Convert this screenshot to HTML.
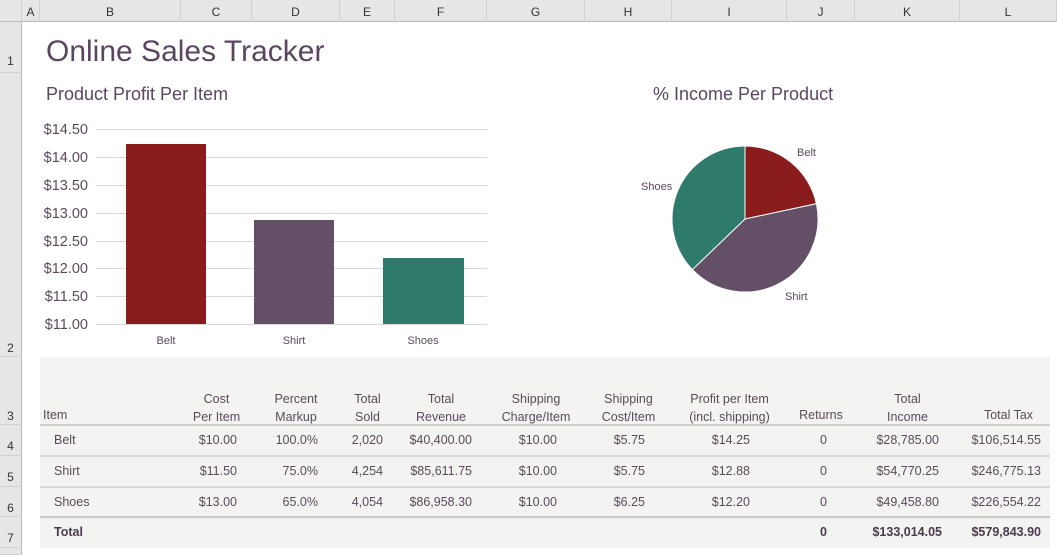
<!DOCTYPE html><html><head><style>
body{margin:0;width:1057px;height:555px;background:#fff;font-family:"Liberation Sans",sans-serif;overflow:hidden;position:relative}
.a{position:absolute}
.ch{position:absolute;top:0;height:22px;background:#e6e6e6;border-right:1px solid #d0d0d0;border-bottom:1px solid #bbb;font-size:12px;color:#333;text-align:center;line-height:24px;box-sizing:border-box}
.rh{position:absolute;left:0;width:22px;background:#e6e6e6;border-bottom:1px solid #d0d0d0;border-right:1px solid #bbb;font-size:12px;color:#333;text-align:center;box-sizing:border-box}
.t{position:absolute;font-size:12.5px;color:#5a4a5c;text-align:right;white-space:nowrap}
.box{position:absolute;left:0;top:0;width:1057px;height:555px}
</style></head><body>
<div class="ch" style="left:0;width:22px"></div>
<div class="ch" style="left:22px;width:18px">A</div>
<div class="ch" style="left:40px;width:141px">B</div>
<div class="ch" style="left:181px;width:71px">C</div>
<div class="ch" style="left:252px;width:88px">D</div>
<div class="ch" style="left:340px;width:55px">E</div>
<div class="ch" style="left:395px;width:92px">F</div>
<div class="ch" style="left:487px;width:98px">G</div>
<div class="ch" style="left:585px;width:87px">H</div>
<div class="ch" style="left:672px;width:115px">I</div>
<div class="ch" style="left:787px;width:68px">J</div>
<div class="ch" style="left:855px;width:105px">K</div>
<div class="ch" style="left:960px;width:97px">L</div>
<div class="rh" style="top:22px;height:51px;line-height:78px">1</div>
<div class="rh" style="top:73px;height:284px;padding-top:268px">2</div>
<div class="rh" style="top:357px;height:68px;padding-top:52px">3</div>
<div class="rh" style="top:425px;height:31px;padding-top:14px">4</div>
<div class="rh" style="top:456px;height:31px;padding-top:14px">5</div>
<div class="rh" style="top:487px;height:30px;padding-top:14px">6</div>
<div class="rh" style="top:517px;height:31px;padding-top:14px">7</div>
<div class="rh" style="top:548px;height:7px"></div>
<div class="a" style="left:46px;top:35px;font-size:30px;color:#5b4660">Online Sales Tracker</div>
<div class="a" style="left:46px;top:84px;font-size:18px;color:#5b4660">Product Profit Per Item</div>
<div class="a" style="left:653px;top:84px;font-size:18px;color:#5b4660">% Income Per Product</div>
<svg class="a" style="left:0;top:0" width="1057" height="357">
<g stroke="#d9d9d9" stroke-width="1">
<line x1="96" x2="487" y1="129.5" y2="129.5"/><line x1="96" x2="487" y1="157.5" y2="157.5"/><line x1="96" x2="487" y1="185.5" y2="185.5"/><line x1="96" x2="487" y1="213.5" y2="213.5"/><line x1="96" x2="487" y1="241.5" y2="241.5"/><line x1="96" x2="487" y1="268.5" y2="268.5"/><line x1="96" x2="487" y1="296.5" y2="296.5"/><line x1="96" x2="487" y1="324.5" y2="324.5"/></g>
<g font-size="14.5" fill="#5a4a5c" text-anchor="end" font-family="Liberation Sans">
<text x="88" y="134">$14.50</text><text x="88" y="162">$14.00</text><text x="88" y="190">$13.50</text><text x="88" y="218">$13.00</text><text x="88" y="246">$12.50</text><text x="88" y="273">$12.00</text><text x="88" y="301">$11.50</text><text x="88" y="329">$11.00</text></g>
<rect x="126" y="144" width="80" height="180" fill="#8b1c1e"/>
<rect x="254" y="220" width="80" height="104" fill="#634f66"/>
<rect x="383" y="258" width="81" height="66" fill="#2e7b6b"/>
<g font-size="11" fill="#5a4a5c" text-anchor="middle" font-family="Liberation Sans"><text x="166" y="344">Belt</text><text x="294" y="344">Shirt</text><text x="423" y="344">Shoes</text></g>
<path d="M745 219 L745 146 A73 73 0 0 1 816.4 203.7Z" fill="#8b1c1e" stroke="#fff" stroke-width="1"/>
<path d="M745 219 L816.4 203.7 A73 73 0 0 1 692.4 269.6Z" fill="#634f66" stroke="#fff" stroke-width="1"/>
<path d="M745 219 L692.4 269.6 A73 73 0 0 1 745 146Z" fill="#2e7b6b" stroke="#fff" stroke-width="1"/>
<g font-size="11" fill="#5a4a5c" font-family="Liberation Sans"><text x="797" y="156">Belt</text><text x="785" y="300">Shirt</text><text x="641" y="190">Shoes</text></g>
</svg>
<div class="a" style="left:40px;top:357px;width:1010px;height:191px;background:#f3f3f1"></div>
<div class="a" style="left:40px;top:424px;width:1010px;height:2px;background:#cfcfcf"></div>
<div class="a" style="left:40px;top:455px;width:1010px;height:2px;background:#d6d6d6"></div>
<div class="a" style="left:40px;top:486px;width:1010px;height:2px;background:#d6d6d6"></div>
<div class="a" style="left:40px;top:516px;width:1010px;height:2px;background:#c8c8c8"></div>
<div class="box">
<div class="t" style="left:43px;top:408px;text-align:left">Item</div>
<div class="t" style="left:181px;width:71px;top:390px;text-align:center;line-height:18px">Cost<br>Per Item</div>
<div class="t" style="left:252px;width:88px;top:390px;text-align:center;line-height:18px">Percent<br>Markup</div>
<div class="t" style="left:340px;width:55px;top:390px;text-align:center;line-height:18px">Total<br>Sold</div>
<div class="t" style="left:395px;width:92px;top:390px;text-align:center;line-height:18px">Total<br>Revenue</div>
<div class="t" style="left:487px;width:98px;top:390px;text-align:center;line-height:18px">Shipping<br>Charge/Item</div>
<div class="t" style="left:585px;width:87px;top:390px;text-align:center;line-height:18px">Shipping<br>Cost/Item</div>
<div class="t" style="left:672px;width:115px;top:390px;text-align:center;line-height:18px">Profit per Item<br>(incl. shipping)</div>
<div class="t" style="left:787px;width:68px;top:408px;text-align:center">Returns</div>
<div class="t" style="left:855px;width:105px;top:390px;text-align:center;line-height:18px">Total<br>Income</div>
<div class="t" style="left:960px;width:97px;top:408px;text-align:center">Total Tax</div>
</div>
<div class="box">
<div class="t" style="left:54px;top:433px">Belt</div>
<div class="t" style="left:54px;top:464px">Shirt</div>
<div class="t" style="left:54px;top:495px">Shoes</div>
<div class="t" style="left:54px;top:525px;font-weight:bold;color:#4a3a4e">Total</div>
<div class="t" style="right:820px;top:433px">$10.00</div><div class="t" style="right:820px;top:464px">$11.50</div><div class="t" style="right:820px;top:495px">$13.00</div>
<div class="t" style="right:739px;top:433px">100.0%</div><div class="t" style="right:739px;top:464px">75.0%</div><div class="t" style="right:739px;top:495px">65.0%</div>
<div class="t" style="right:674px;top:433px">2,020</div><div class="t" style="right:674px;top:464px">4,254</div><div class="t" style="right:674px;top:495px">4,054</div>
<div class="t" style="right:585px;top:433px">$40,400.00</div><div class="t" style="right:585px;top:464px">$85,611.75</div><div class="t" style="right:585px;top:495px">$86,958.30</div>
<div class="t" style="right:500px;top:433px">$10.00</div><div class="t" style="right:500px;top:464px">$10.00</div><div class="t" style="right:500px;top:495px">$10.00</div>
<div class="t" style="right:412px;top:433px">$5.75</div><div class="t" style="right:412px;top:464px">$5.75</div><div class="t" style="right:412px;top:495px">$6.25</div>
<div class="t" style="right:307px;top:433px">$14.25</div><div class="t" style="right:307px;top:464px">$12.88</div><div class="t" style="right:307px;top:495px">$12.20</div>
<div class="t" style="right:230px;top:433px">0</div><div class="t" style="right:230px;top:464px">0</div><div class="t" style="right:230px;top:495px">0</div><div class="t" style="right:230px;top:525px;font-weight:bold;color:#4a3a4e">0</div>
<div class="t" style="right:118px;top:433px">$28,785.00</div><div class="t" style="right:118px;top:464px">$54,770.25</div><div class="t" style="right:118px;top:495px">$49,458.80</div><div class="t" style="right:115px;top:525px;font-weight:bold;color:#4a3a4e">$133,014.05</div>
<div class="t" style="right:16px;top:433px">$106,514.55</div><div class="t" style="right:16px;top:464px">$246,775.13</div><div class="t" style="right:16px;top:495px">$226,554.22</div><div class="t" style="right:16px;top:525px;font-weight:bold;color:#4a3a4e">$579,843.90</div>
</div>
</body></html>
